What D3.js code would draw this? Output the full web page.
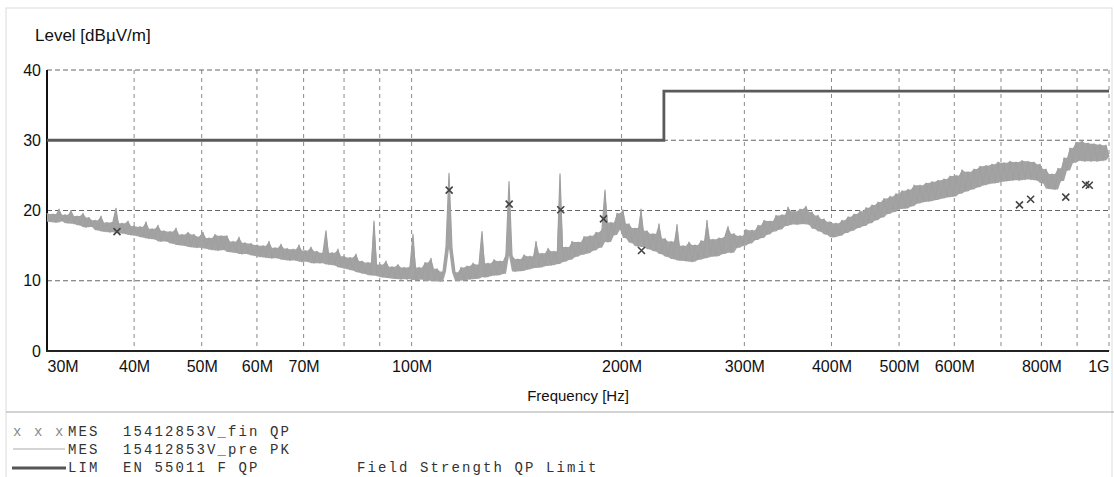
<!DOCTYPE html>
<html>
<head>
<meta charset="utf-8">
<script src="https://cdnjs.cloudflare.com/ajax/libs/d3/7.8.5/d3.min.js"></script>
<style>
body{margin:0;background:#fff;}
</style>
</head>
<body>
<div id="chart-area"></div>
<script>
// frequencies in MHz, levels in dBuV/m
var sweepStart = 30, sweepStop = 1000

var pkLevel = [
19.6,18.4,19.5,18.3,20.2,18.5,19.4,18.2,20.0,18.1,
19.2,17.9,19.6,17.6,19.0,17.7,18.6,17.2,19.2,17.0,
18.3,16.9,18.4,20.3,16.8,18.2,16.7,18.5,16.5,17.8,
16.4,17.7,16.2,18.4,16.0,17.4,15.9,17.9,15.6,17.1,
15.6,17.0,15.3,17.5,15.1,16.6,15.0,16.9,14.8,16.6,
14.7,16.3,16.9,14.6,16.1,14.4,16.6,14.3,16.4,14.4,
16.4,14.1,15.6,14.0,16.2,13.8,15.4,13.8,15.3,13.6,
15.1,13.4,15.0,13.3,15.6,13.2,14.7,13.2,15.2,13.0,
14.6,12.9,14.5,12.9,15.1,12.7,14.3,12.7,14.8,12.5,
14.2,12.5,14.0,17.1,12.3,14.0,12.2,14.5,11.9,13.5,
11.7,13.3,11.5,13.8,11.2,12.8,11.0,12.6,10.8,18.5,
10.7,12.3,10.5,12.8,10.4,12.0,10.3,12.3,10.2,11.9,
10.2,12.0,16.6,10.1,11.9,10.2,12.6,10.0,13.2,10.0,
11.7,9.9,11.3,14.8,25.3,14.6,11.2,10.0,11.9,10.1,
12.1,10.2,12.5,10.3,12.3,17.0,10.5,12.5,10.7,13.0,
10.8,12.8,11.0,13.8,24.1,13.6,11.3,13.1,11.4,13.7,
11.6,13.5,11.8,15.6,11.9,13.9,12.1,14.6,12.2,14.2,
12.4,25.2,12.7,14.8,13.0,15.6,13.4,15.5,13.7,16.3,
13.9,16.4,14.3,16.9,14.7,17.3,22.9,15.5,18.3,16.5,
19.6,17.3,20.1,16.1,18.1,15.4,17.5,14.9,20.2,14.8,
17.1,14.5,16.7,14.2,18.1,13.8,16.0,13.4,15.6,13.1,
18.0,12.9,15.0,12.8,15.5,12.7,15.1,13.0,15.7,13.2,
18.6,13.4,15.9,13.5,16.1,13.8,16.3,17.7,14.0,16.7,
14.7,16.4,15.0,17.3,15.3,17.2,15.8,17.9,16.1,18.6,
16.6,18.5,17.0,19.3,17.3,19.4,17.8,20.5,18.0,19.9,
18.0,20.2,18.1,20.6,18.0,19.8,17.4,19.3,17.0,18.8,
16.6,18.4,16.2,18.2,16.4,18.6,16.8,19.1,17.1,19.5,
17.5,19.9,17.8,20.4,18.2,20.8,18.6,21.2,19.0,21.7,
19.5,22.0,19.8,22.4,20.2,22.8,20.3,23.0,20.6,23.6,
21.0,23.6,21.2,23.9,21.3,24.1,21.5,24.3,21.7,24.5,
21.9,24.9,22.0,25.0,22.4,25.8,22.7,25.5,23.0,25.9,
23.3,26.3,23.6,26.4,23.8,26.6,23.9,26.9,24.1,26.8,
24.2,27.0,24.3,26.9,24.3,27.1,24.4,27.0,24.4,26.9,
24.3,26.6,23.9,25.9,23.1,25.2,23.0,26.0,24.2,27.5,
25.7,28.9,26.8,29.7,27.1,29.9,27.0,29.6,27.0,29.5,
27.0,29.4,27.1,29.3,27.6
]

var qpFreq = [37.8, 113.2, 138.0, 163.6, 188.4, 213.6, 744, 772, 867, 926, 937]
var qpLevel = [17.0, 22.9, 20.9, 20.1, 18.8, 14.3, 20.8, 21.6, 21.9, 23.7, 23.6]

var limitFreq = [30, 230, 230, 1000]
var limitLevel = [30, 30, 37, 37]

var gridFreq = [40, 50, 60, 70, 80, 90, 100, 200, 300, 400, 500, 600, 700, 800, 900, 1000]
var tickFreq = [30, 40, 50, 60, 70, 100, 200, 300, 400, 500, 600, 800, 1000]
var tickLabel = ["30M", "40M", "50M", "60M", "70M", "100M", "200M", "300M", "400M", "500M", "600M", "800M", "1G"]
var levelTicks = [0, 10, 20, 30, 40]

var legendRows = [
	{mark: "x x x", type: "MES", name: "15412853V_fin QP", note: ""},
	{mark: "thin", type: "MES", name: "15412853V_pre PK", note: ""},
	{mark: "thick", type: "LIM", name: "EN 55011 F QP", note: "Field Strength QP Limit"}
]

var width = 1114, height = 477
var plotLeft = 47, plotRight = 1109, plotTop = 70, plotBottom = 351

var svg = d3.select("#chart-area").append("svg")
	.attr("width", width)
	.attr("height", height)
	.style("font-family", "'Liberation Sans', Arial, sans-serif")

svg.append("rect")
	.attr("x", 6).attr("y", 8)
	.attr("width", 1106).attr("height", 480)
	.attr("fill", "none")
	.attr("stroke", "#dcdcdc")

svg.append("line")
	.attr("x1", 6).attr("x2", width)
	.attr("y1", 412).attr("y2", 412)
	.attr("stroke", "#a8a8a8")

var x = d3.scaleLog()
	.domain([sweepStart, sweepStop])
	.range([plotLeft, plotRight])

var y = d3.scaleLinear()
	.domain([0, 40])
	.range([plotBottom, plotTop])

// grid
svg.append("g").selectAll("line")
	.data(gridFreq)
	.enter()
	.append("line")
	.attr("x1", (d) => x(d)).attr("x2", (d) => x(d))
	.attr("y1", plotTop).attr("y2", plotBottom)
	.attr("stroke", "#8a8a8a")
	.attr("stroke-width", 1)
	.attr("stroke-dasharray", "4,4")

svg.append("g").selectAll("line")
	.data(levelTicks.slice(1))
	.enter()
	.append("line")
	.attr("x1", plotLeft).attr("x2", plotRight)
	.attr("y1", (d) => y(d)).attr("y2", (d) => y(d))
	.attr("stroke", "#666")
	.attr("stroke-width", 1)
	.attr("stroke-dasharray", "5,3")

// axes
var xAxis = d3.axisBottom(x)
	.tickValues(tickFreq)
	.tickFormat((d, i) => tickLabel[i])
	.tickSize(0)
	.tickPadding(10)

var gx = svg.append("g")
	.attr("transform", "translate(0," + plotBottom + ")")
	.call(xAxis)
gx.select(".domain").remove()
gx.selectAll("text")
	.attr("font-size", 16)
	.attr("fill", "#111")
	.attr("font-family", "'Liberation Sans', Arial, sans-serif")
	.attr("text-anchor", (d, i) => i == 0 ? "start" : (i == tickFreq.length - 1 ? "end" : "middle"))

var yAxis = d3.axisLeft(y)
	.tickValues(levelTicks)
	.tickSize(0)
	.tickPadding(6)

var gy = svg.append("g")
	.attr("transform", "translate(" + plotLeft + ",0)")
	.call(yAxis)
gy.select(".domain").remove()
gy.selectAll("text")
	.attr("font-size", 16)
	.attr("fill", "#111")
	.attr("font-family", "'Liberation Sans', Arial, sans-serif")

svg.append("line")
	.attr("x1", plotLeft).attr("x2", plotLeft)
	.attr("y1", plotTop).attr("y2", plotBottom + 1)
	.attr("stroke", "#111").attr("stroke-width", 2)
svg.append("line")
	.attr("x1", plotLeft - 1).attr("x2", plotRight)
	.attr("y1", plotBottom).attr("y2", plotBottom)
	.attr("stroke", "#222").attr("stroke-width", 2)

svg.append("text")
	.attr("x", 35).attr("y", 41)
	.attr("font-size", 17)
	.attr("fill", "#111")
	.text("Level [dBµV/m]")

svg.append("text")
	.attr("x", (plotLeft + plotRight) / 2).attr("y", 401)
	.attr("text-anchor", "middle")
	.attr("font-size", 15)
	.attr("fill", "#111")
	.text("Frequency [Hz]")

// PK trace: sweep points, band filled between each point and its neighbours
var pkData = pkLevel.map((v, i) => {
	var prev = pkLevel[Math.max(i - 1, 0)], next = pkLevel[Math.min(i + 1, pkLevel.length - 1)]
	return {
		f: sweepStart * Math.pow(sweepStop / sweepStart, i / (pkLevel.length - 1)),
		v: v,
		hi: Math.max(v, Math.min(prev, next)),
		lo: Math.min(v, prev, next)
	}
})

var band = d3.area()
	.x((d) => x(d.f))
	.y0((d) => y(d.lo))
	.y1((d) => y(d.hi))

var line = d3.line()
	.x((d) => x(d.f))
	.y((d) => y(d.v))

svg.append("path")
	.datum(pkData)
	.attr("d", band)
	.attr("fill", "#a3a3a3")

svg.append("path")
	.datum(pkData)
	.attr("d", line)
	.attr("fill", "none")
	.attr("stroke", "#a0a0a0")
	.attr("stroke-width", 1.2)
	.attr("stroke-linejoin", "round")

// limit
svg.append("path")
	.datum(limitFreq.map((f, i) => { return {f: f, v: limitLevel[i]} }))
	.attr("d", line)
	.attr("fill", "none")
	.attr("stroke", "#5a5a5a")
	.attr("stroke-width", 2.8)

// QP markers
svg.append("g").selectAll("path")
	.data(qpFreq)
	.enter()
	.append("path")
	.attr("transform", (d, i) => "translate(" + x(d) + "," + y(qpLevel[i]) + ")")
	.attr("d", "M-3.5,-3.5L3.5,3.5M-3.5,3.5L3.5,-3.5")
	.attr("stroke", "#444")
	.attr("stroke-width", 1.6)
	.attr("fill", "none")

// legend
var lg = svg.append("g")
	.style("font-family", "'Liberation Mono', 'Courier New', monospace")
	.attr("font-size", 14)
	.style("letter-spacing", "2.1px")

var rows = lg.selectAll("g")
	.data(legendRows)
	.enter()
	.append("g")
	.attr("transform", (d, i) => "translate(0," + (436 + i * 18) + ")")

rows.filter((d) => d.mark == "x x x")
	.append("text")
	.attr("x", 13)
	.attr("fill", "#8a8a8a")
	.text((d) => d.mark)
rows.filter((d) => d.mark == "thin")
	.append("line")
	.attr("x1", 13).attr("x2", 65)
	.attr("y1", -5).attr("y2", -5)
	.attr("stroke", "#aaa").attr("stroke-width", 1)
rows.filter((d) => d.mark == "thick")
	.append("line")
	.attr("x1", 12).attr("x2", 66)
	.attr("y1", -4).attr("y2", -4)
	.attr("stroke", "#555").attr("stroke-width", 3)

rows.append("text").attr("x", 68).attr("fill", "#333").text((d) => d.type)
rows.append("text").attr("x", 123).attr("fill", "#333").text((d) => d.name)
rows.append("text").attr("x", 357).attr("fill", "#333").text((d) => d.note)
</script>
</body>
</html>
